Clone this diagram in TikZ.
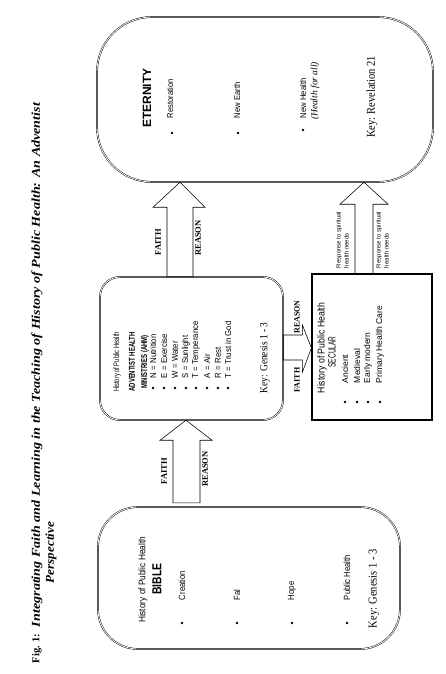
\documentclass[tikz,border=0pt]{standalone}
\usepackage{fontspec}
\setmainfont{Liberation Serif}
\newfontfamily\ns{Liberation Sans}
\usetikzlibrary{calc}
\newcommand{\sx}[2]{\scalebox{#1}[1]{#2}}
\begin{document}
\begin{tikzpicture}[x=1pt,y=-1pt,
  lab/.style={rotate=90,inner sep=0pt,outer sep=0pt},
  rbox/.style={draw,line width=0.45pt,double,double distance=0.8pt,inner sep=0pt},
  sbox/.style={draw,line width=1.2pt,inner sep=0pt},
  blk/.style={draw,line width=0.55pt,line join=miter},
  bul/.style={circle,fill,inner sep=0pt,minimum size=2.6pt},
  tl/.style={lab,font=\bfseries\itshape\fontsize{12}{14}\selectfont},
  fr/.style={lab,font=\bfseries\fontsize{8.5}{10}\selectfont},
  it/.style={lab,anchor=west,font=\ns\fontsize{8.5}{10}\selectfont},
  key/.style={lab,anchor=west,font=\fontsize{12}{14}\selectfont}]

\path[fill=white,use as bounding box] (0,0) rectangle (445,674);

% title
\node[tl,anchor=west,font=\bfseries\fontsize{10.5}{12}\selectfont] (fig) at (37,663) {Fig. 1:};
\node[tl,anchor=west] (title) at (37,627) {\resizebox{524pt}{\height}{Integrating Faith and Learning in the Teaching of History of Public Health: An Adventist}};
\node[tl,anchor=west] (persp) at (51,583) {\resizebox{61pt}{\height}{Perspective}};

% boxes
\node[rbox,rounded corners=55pt,minimum width=336pt,minimum height=165pt] (etern) at (265,99.5) {};
\node[rbox,rounded corners=20pt,minimum width=183pt,minimum height=143pt] (ahm) at (191.5,348.5) {};
\node[rbox,rounded corners=40pt,minimum width=302pt,minimum height=142pt] (bible) at (249,578) {};
\node[sbox,minimum width=120pt,minimum height=146pt] (sec) at (372,347) {};

% eternity contents
\node[lab,anchor=west,font=\ns\bfseries\fontsize{12}{14}\selectfont] (eth) at (147,128) {ETERNITY};
\node[bul] (eb1) at (172,133) {};
\node[bul] (eb2) at (238,133) {};
\node[bul] (eb3) at (303,130) {};
\node[it] (e1) at (170,118) {\sx{0.9}{Restoration}};
\node[it] (e2) at (237,118) {\sx{0.9}{New Earth}};
\node[it] (e3) at (303,118) {\sx{0.9}{New Health}};
\node[lab,anchor=west,font=\itshape\fontsize{9.5}{11}\selectfont] (e4) at (315,120) {(Health for all)};
\node[key] (ekey) at (372,138) {\sx{0.87}{Key: Revelation 21}};

% AHM contents
\node[lab,font=\ns\fontsize{8}{9}\selectfont] (ah1) at (117,362) {\sx{0.72}{History of Public Health}};
\node[lab,font=\ns\bfseries\fontsize{8.5}{10}\selectfont] (ah2) at (132,362) {\sx{0.7}{ADVENTIST HEALTH}};
\node[lab,font=\ns\bfseries\fontsize{8.5}{10}\selectfont] (ah3) at (145,362) {\sx{0.7}{MINISTRIES (AHM)}};
\foreach \x/\t [count=\i] in {153/N = Nutrition,164/E = Exercise,175/W = Water,186/S = Sunlight,196/T = Temperance,207/A = Air,218/R = Rest,228/T = Trust in God}{
  \node[bul] (ab\i) at (\x,388) {};
  \node[it] (at\i) at (\x,378) {\sx{0.92}{\t}};
}
\node[key,font=\fontsize{11}{13}\selectfont] (akey) at (265,393) {\sx{0.85}{Key: Genesis 1 - 3}};

% BIBLE contents
\node[lab,font=\ns\fontsize{9.5}{11}\selectfont] (bh1) at (143,580) {\sx{0.87}{History of Public Health}};
\node[lab,font=\ns\bfseries\fontsize{13}{15}\selectfont] (bh2) at (157,579) {\sx{0.8}{BIBLE}};
\foreach \x/\t [count=\i] in {182/Creation,237/Fal,292/Hope,347/Public Health}{
  \node[bul] (bb\i) at (\x,623) {};
  \node[it,font=\ns\fontsize{9}{10}\selectfont] (bt\i) at (\x,600) {\sx{0.85}{\t}};
}
\node[key] (bkey) at (374,628) {\sx{0.87}{Key: Genesis 1 - 3}};

% SECULAR contents
\node[lab,font=\ns\fontsize{10}{12}\selectfont] (sh1) at (322,348) {\sx{0.87}{History of Public Health}};
\node[lab,font=\ns\fontsize{10.5}{12}\selectfont] (sh2) at (332,352) {\sx{0.62}{SECULAR}};
\foreach \x/\t [count=\i] in {345/Ancient,357/Medieval,368/Early modern,380/Primary Health Care}{
  \node[bul] (sb\i) at (\x,402) {};
  \node[it] (st\i) at (\x,383) {\t};
}

% block arrows
\path (186,0 |- ahm.south) coordinate (a1t) (186,0 |- bible.north) coordinate (a1b);
\draw[blk] (a1t) -- ++(26,20) -- ++(-12,0) -- ($(a1b)+(14,-4)$) -- ($(a1b)+(-13,-4)$) -- ($(a1t)+(-13,20)$) -- ++(-13,0) -- cycle;
\path (180,0 |- etern.south) coordinate (a2t) (180,0 |- ahm.north) coordinate (a2b);
\draw[blk] (a2t) -- ++(25,25) -- ++(-12,0) -- ($(a2b)+(13,0)$) -- ($(a2b)+(-13,0)$) -- ($(a2t)+(-13,25)$) -- ++(-14,0) -- cycle;
\path (sec.west |- 0,348) coordinate (a3t) (ahm.east |- 0,348) coordinate (a3b);
\draw[blk] (a3t) -- ++(-9,24) -- ++(0,-12) -- ($(a3b)+(0,12)$) -- ($(a3b)+(0,-13)$) -- ($(a3t)+(-9,-13)$) -- ++(0,-10) -- cycle;
\path (364,0 |- etern.south) coordinate (a4t) (364,0 |- sec.north) coordinate (a4b);
\draw[blk] (a4t) -- ++(24,22) -- ++(-15,0) -- ($(a4b)+(9,0)$) -- ($(a4b)+(-9,0)$) -- ($(a4t)+(-9,22)$) -- ++(-15,0) -- cycle;

% arrow labels
\node[fr] (f1) at (164,471) {FAITH};
\node[fr] (r1) at (205,469) {REASON};
\node[fr] (f2) at (158,242) {FAITH};
\node[fr] (r2) at (198,238) {REASON};
\node[fr,font=\bfseries\fontsize{8}{10}\selectfont] (f3) at (297,380) {FAITH};
\node[fr,font=\bfseries\fontsize{8}{10}\selectfont] (r3) at (297,317) {REASON};
\node[lab,anchor=west,align=left,font=\ns\fontsize{6}{8}\selectfont] (rs1) at (342.5,268) {Response to spiritual\\health needs};
\node[lab,anchor=west,align=left,font=\ns\fontsize{6}{8}\selectfont] (rs2) at (382.5,268) {Response to spiritual\\health needs};
\end{tikzpicture}
\end{document}
